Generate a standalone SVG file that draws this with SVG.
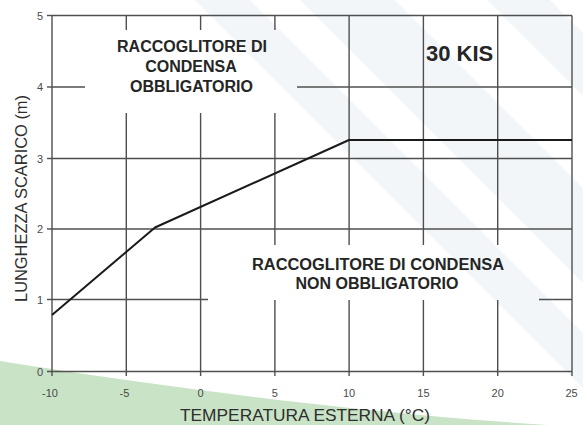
<svg xmlns="http://www.w3.org/2000/svg" width="583" height="425" viewBox="0 0 583 425">
  <style>
    .grid { stroke: #4f4f4f; stroke-width: 1.4; fill: none; }
    .curve { stroke: #1a1a1a; stroke-width: 2; fill: none; stroke-linejoin: round; }
    .tick { font-family: "Liberation Sans", Arial, sans-serif; font-size: 11px; fill: #4a4a4a; }
    .lbl { font-family: "Liberation Sans", Arial, sans-serif; font-size: 16px; font-weight: bold; fill: #252525; text-anchor: middle; }
    .title { font-family: "Liberation Sans", Arial, sans-serif; font-size: 16.5px; fill: #2e2e2e; }
    .band { fill: #f2f6f8; }
  </style>
  <rect width="583" height="425" fill="#ffffff"/>
  <g id="background">
    <polygon class="band" points="300,0 395,0 583,188 583,283"/>
    <polygon class="band" points="487,0 550,0 583,33 583,96"/>
    <polygon class="band" points="195,0 250,0 583,333 583,388"/>
    <path d="M0,361 C150,385 350,412 548,425 L0,425 Z" fill="#c8e3c5"/>
  </g>
  <g id="grid">
    <line class="grid" x1="52" y1="15.5" x2="572" y2="15.5"/>
    <line class="grid" x1="52" y1="87" x2="85" y2="87"/>
    <line class="grid" x1="297" y1="87" x2="572" y2="87"/>
    <line class="grid" x1="52" y1="158.5" x2="572" y2="158.5"/>
    <line class="grid" x1="52" y1="229" x2="572" y2="229"/>
    <line class="grid" x1="52" y1="299.5" x2="208" y2="299.5"/>
    <line class="grid" x1="539" y1="299.5" x2="572" y2="299.5"/>
    <line class="grid" x1="47" y1="371.5" x2="572" y2="371.5"/>
    <line class="grid" x1="47" y1="15.5" x2="52" y2="15.5"/>
    <line class="grid" x1="47" y1="87" x2="52" y2="87"/>
    <line class="grid" x1="47" y1="158.5" x2="52" y2="158.5"/>
    <line class="grid" x1="47" y1="229" x2="52" y2="229"/>
    <line class="grid" x1="47" y1="299.5" x2="52" y2="299.5"/>
    <line class="grid" x1="52" y1="15.5" x2="52" y2="376"/>
    <line class="grid" x1="126.3" y1="15.5" x2="126.3" y2="30"/>
    <line class="grid" x1="126.3" y1="113" x2="126.3" y2="376"/>
    <line class="grid" x1="200.6" y1="15.5" x2="200.6" y2="30"/>
    <line class="grid" x1="200.6" y1="113" x2="200.6" y2="376"/>
    <line class="grid" x1="274.9" y1="15.5" x2="274.9" y2="30"/>
    <line class="grid" x1="274.9" y1="113" x2="274.9" y2="245"/>
    <line class="grid" x1="274.9" y1="300" x2="274.9" y2="376"/>
    <line class="grid" x1="349.1" y1="15.5" x2="349.1" y2="245"/>
    <line class="grid" x1="349.1" y1="300" x2="349.1" y2="376"/>
    <line class="grid" x1="423.4" y1="15.5" x2="423.4" y2="245"/>
    <line class="grid" x1="423.4" y1="300" x2="423.4" y2="376"/>
    <line class="grid" x1="497.7" y1="15.5" x2="497.7" y2="245"/>
    <line class="grid" x1="497.7" y1="300" x2="497.7" y2="376"/>
    <line class="grid" x1="572" y1="15.5" x2="572" y2="376"/>
  </g>
  <g id="connectors">
    <polyline id="curve" class="curve" points="52,315 155,227.5 349,140 572,140"/>
  </g>
  <g id="y-tick-labels" class="tick" text-anchor="end">
    <text x="43" y="19.5">5</text>
    <text x="43" y="91">4</text>
    <text x="43" y="162.5">3</text>
    <text x="43" y="233">2</text>
    <text x="43" y="303.5">1</text>
    <text x="43" y="375.5">0</text>
  </g>
  <g id="x-tick-labels" class="tick" text-anchor="middle">
    <text x="50" y="396.5">-10</text>
    <text x="124.5" y="396.5">-5</text>
    <text x="200.6" y="396.5">0</text>
    <text x="274.9" y="396.5">5</text>
    <text x="349.1" y="396.5">10</text>
    <text x="423.4" y="396.5">15</text>
    <text x="497.7" y="396.5">20</text>
    <text x="571.5" y="396.5">25</text>
  </g>
  <g id="label-obbligatorio" class="lbl">
    <text x="192" y="52">RACCOGLITORE DI</text>
    <text x="191" y="72">CONDENSA</text>
    <text x="191.5" y="92">OBBLIGATORIO</text>
  </g>
  <g id="label-model">
    <text x="426" y="61" font-family="'Liberation Sans', Arial, sans-serif" font-size="22" font-weight="bold" fill="#252525">30 KIS</text>
  </g>
  <g id="label-non-obbligatorio" class="lbl">
    <text x="378" y="270" textLength="252" lengthAdjust="spacingAndGlyphs">RACCOGLITORE DI CONDENSA</text>
    <text x="377" y="289">NON OBBLIGATORIO</text>
  </g>
  <g id="axis-titles" class="title">
    <text x="305" y="420.5" text-anchor="middle" textLength="250" lengthAdjust="spacingAndGlyphs">TEMPERATURA ESTERNA (°C)</text>
    <text transform="translate(27,198.5) rotate(-90)" x="0" y="0" text-anchor="middle" textLength="207" lengthAdjust="spacingAndGlyphs">LUNGHEZZA SCARICO (m)</text>
  </g>
</svg>
